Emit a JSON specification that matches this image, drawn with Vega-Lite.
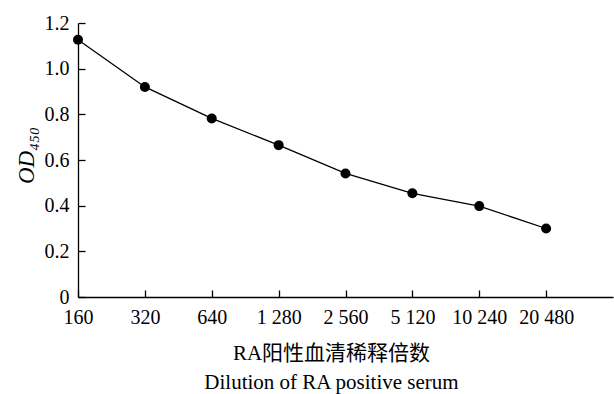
{
  "$schema": "https://vega.github.io/schema/vega-lite/v6.json",
  "width": 535,
  "height": 274,
  "autosize": "none",
  "padding": {"left": 78, "top": 23, "right": 1, "bottom": 97},
  "background": "white",
  "config": {
    "view": {"stroke": null},
    "font": "Liberation Serif",
    "axis": {"grid": false, "domainColor": "black", "tickColor": "black", "labelColor": "black", "titleColor": "black", "labelFont": "Liberation Serif", "titleFont": "Liberation Serif", "labelFontSize": 20, "titleFontSize": 21, "titleFontWeight": "normal", "domainWidth": 1.3, "tickWidth": 1.3}
  },
  "data": {"values": [
    {"dilution": 160, "od": 1.127},
    {"dilution": 320, "od": 0.92},
    {"dilution": 640, "od": 0.782},
    {"dilution": 1280, "od": 0.665},
    {"dilution": 2560, "od": 0.541},
    {"dilution": 5120, "od": 0.454},
    {"dilution": 10240, "od": 0.398},
    {"dilution": 20480, "od": 0.30}
  ]},
  "layer": [
    {
      "mark": {"type": "line", "color": "black", "strokeWidth": 1.3},
      "encoding": {
        "x": {"field": "dilution", "type": "quantitative", "scale": {"type": "log", "base": 2, "domain": [160, 40960], "nice": false},
          "axis": {"values": [160, 320, 640, 1280, 2560, 5120, 10240, 20480], "tickSize": -7, "labelPadding": 17, "labelExpr": "replace(format(datum.value, ','), ',', ' ')", "labelFlush": false, "labelOverlap": false,
            "title": ["RA阳性血清稀释倍数", "Dilution of RA positive serum"], "titleFont": "Liberation Serif, Noto Sans CJK SC", "titleX": 253, "titlePadding": 15, "titleLineHeight": 29, "titleFontSize": 21}},
        "y": {"field": "od", "type": "quantitative", "scale": {"domain": [0, 1.2], "nice": false},
          "axis": {"values": [0, 0.2, 0.4, 0.6, 0.8, 1.0, 1.2], "tickSize": -7, "labelPadding": 16, "labelExpr": "datum.value == 0 ? '0' : format(datum.value, '.1f')",
            "title": "OD₄₅₀", "titleFontStyle": "italic", "titleFontSize": 23, "titlePadding": 6, "titleY": 132}}
      }
    },
    {
      "mark": {"type": "point", "filled": true, "color": "black", "size": 100, "opacity": 1},
      "encoding": {
        "x": {"field": "dilution", "type": "quantitative"},
        "y": {"field": "od", "type": "quantitative"}
      }
    }
  ]
}
